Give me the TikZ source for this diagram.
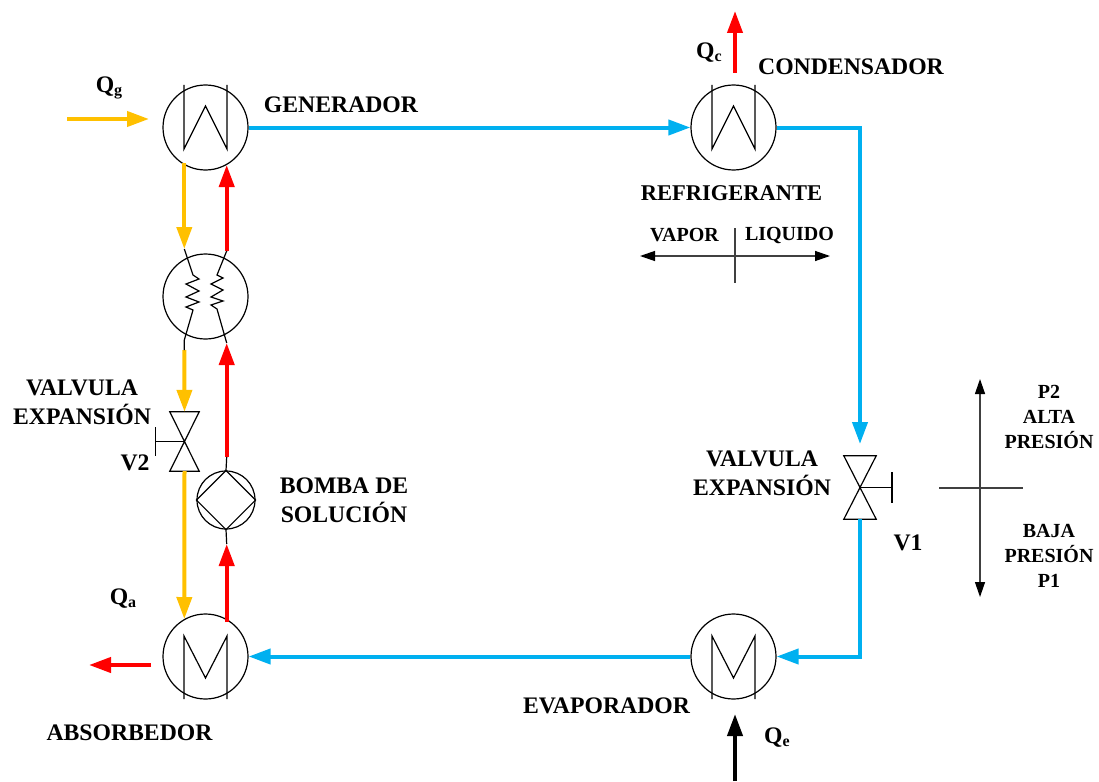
\documentclass[tikz,border=0pt]{standalone}
\usepackage{fontspec}
\setmainfont{Liberation Serif}
\usetikzlibrary{arrows.meta}
\definecolor{flowyellow}{HTML}{FFC000}
\definecolor{flowblue}{HTML}{00B0F0}
\definecolor{flowred}{HTML}{FF0000}
\newcommand{\Qsub}[1]{Q\raisebox{-3pt}{\fontsize{16}{16}\selectfont #1}}
% exchanger coils, drawn from the centre of a unit
\newcommand{\coilup}[1]{\draw[thinline] ([shift={(-21.5,-42.5)}]#1.center) -- ([shift={(-21.5,21.5)}]#1.center) -- ([shift={(0,-21.5)}]#1.center) -- ([shift={(21.5,21.5)}]#1.center) -- ([shift={(21.5,-42.5)}]#1.center);}
\newcommand{\coildown}[1]{\draw[thinline] ([shift={(-21.5,42.5)}]#1.center) -- ([shift={(-21.5,-20.5)}]#1.center) -- ([shift={(0,21.5)}]#1.center) -- ([shift={(21.5,-20.5)}]#1.center) -- ([shift={(21.5,42.5)}]#1.center);}
\newcommand{\valvelines}[1]{\draw[thinline] (#1.north west) -- (#1.north east) -- (#1.south west) -- (#1.south east) -- cycle;}
\tikzset{
    unit/.style={draw, circle, minimum size=85pt, inner sep=0pt, line width=1.2pt},
    thinline/.style={line width=1.2pt, black},
    valvebox/.style={inner sep=0pt, minimum height=59pt},
    lbl/.style={font=\fontsize{23.7}{29}\selectfont\bfseries, align=center, inner sep=0pt},
    reflbl/.style={font=\fontsize{22.5}{29}\selectfont\bfseries, align=center, inner sep=0pt},
    smalllbl/.style={font=\fontsize{20}{25}\selectfont\bfseries, align=center, inner sep=0pt},
    flowtip/.style={-{Triangle[length=22pt,width=15pt]}},
    yellowflow/.style={flowtip, flowyellow, line width=4pt},
    redflow/.style={flowtip, flowred, line width=4pt},
    blueflow/.style={flowtip, flowblue, line width=4pt},
    scaleline/.style={line width=1.3pt, black!75, {Triangle[length=15pt,width=10pt,color=black]}-{Triangle[length=15pt,width=10pt,color=black]}},
}
\begin{document}
\begin{tikzpicture}[x=1pt, y=-1pt]
    \useasboundingbox (0,0) rectangle (1099,781);

    % ===== units =====
    \node[unit] (gen) at (205.5,127.5) {};
    \node[unit] (cond) at (733.5,127.5) {};
    \node[unit] (inter) at (205.5,296.5) {};
    \node[unit] (absor) at (205.5,656.5) {};
    \node[unit] (evap) at (733.5,656.5) {};
    \node[unit, minimum size=58pt] (pump) at (226,500) {};
    \node[valvebox, minimum width=29pt] (vtwo) at (184.5,441.5) {};
    \node[valvebox, minimum width=32pt, minimum height=63pt] (vone) at (860,487.5) {};

    \coilup{gen}
    \coilup{cond}
    \coildown{absor}
    \coildown{evap}
    \draw[thinline] (pump.north) -- (pump.east) -- (pump.south) -- (pump.west) -- cycle;
    \valvelines{vtwo}
    \valvelines{vone}

    % valve handles
    \coordinate (vtwostem) at (155.5,441.5);
    \coordinate (vtwotop) at (155.5,427);
    \coordinate (vtwobot) at (155.5,456);
    \draw[thinline] (vtwo.center) -- (vtwostem);
    \draw[thinline] (vtwotop) -- (vtwobot);
    \coordinate (vonestem) at (892,487.5);
    \coordinate (vonetop) at (892,472);
    \coordinate (vonebot) at (892,503);
    \draw[thinline] (vone.center) -- (vonestem);
    \draw[thinline] (vonetop) -- (vonebot);

    % ===== solution side =====
    \coordinate (genoutL) at (184.3,163);
    \coordinate (interinL) at (184.3,249);
    \coordinate (interoutL) at (184.3,350);
    \coordinate (interinR) at (226.7,343);
    \coordinate (interoutR) at (226.7,251);
    \coordinate (geninR) at (226.7,165);
    \coordinate (absorinL) at (184.3,619);
    \coordinate (absoroutR) at (226.7,622);
    \coordinate (pumpin) at (226.7,544);
    \coordinate (pumpout) at (226.7,457);

    \draw[yellowflow] (genoutL) -- (interinL);
    \draw[yellowflow] (interoutL) -- (vtwo.north);
    \draw[yellowflow] (vtwo.south) -- (absorinL);
    \draw[redflow] (absoroutR) -- (pumpin);
    \draw[redflow] (pumpout) -- (interinR);
    \draw[redflow] (interoutR) -- (geninR);
    \draw[thinline] (pumpin) -- (pump.south);
    \draw[thinline] (pump.north) -- (pumpout);

    % coils inside the solution exchanger
    \draw[thinline] (interinL) -- (193,275) -- (199,279) -- (186,284) -- (199,291) -- (186,297) -- (199,302) -- (186,307) -- (193,310) -- (184.3,340) -- (interoutL);
    \draw[thinline] (interoutR) -- (217,275) -- (223,278) -- (211,284) -- (223,290) -- (211,297) -- (223,301) -- (211,305) -- (217,309) -- (interinR);

    % ===== refrigerant side =====
    \coordinate (voneinT) at (860,444);
    \coordinate (elbowT) at (860,127.5);
    \coordinate (elbowB) at (860,656.5);
    \draw[blueflow] (gen.east) -- (cond.west);
    \draw[blueflow] (cond.east) -- (elbowT) -- (voneinT);
    \draw[blueflow] (vone.south) -- (elbowB) -- (evap.east);
    \draw[blueflow] (evap.west) -- (absor.east);

    % ===== heat flows =====
    \coordinate (qgstart) at (67,119);
    \coordinate (qgend) at (149,119);
    \coordinate (qastart) at (151,665);
    \coordinate (qaend) at (89,665);
    \coordinate (qcstart) at (735,73);
    \coordinate (qcend) at (735,11);
    \coordinate (qestart) at (735,781);
    \coordinate (qeend) at (735,714);
    \draw[yellowflow] (qgstart) -- (qgend);
    \draw[redflow] (qastart) -- (qaend);
    \draw[redflow] (qcstart) -- (qcend);
    \draw[flowtip, black, line width=4pt] (qestart) -- (qeend);

    % ===== vapor / liquido and pressure marks =====
    \coordinate (vapL) at (640,256);
    \coordinate (vapR) at (830,256);
    \coordinate (vapT) at (735,228);
    \coordinate (vapB) at (735,283);
    \draw[scaleline] (vapL) -- (vapR);
    \draw[line width=1.3pt, black!75] (vapT) -- (vapB);
    \coordinate (presT) at (980,379);
    \coordinate (presB) at (980,597);
    \coordinate (presL) at (939,488);
    \coordinate (presR) at (1023,488);
    \draw[scaleline] (presT) -- (presB);
    \draw[line width=1.3pt, black!75] (presL) -- (presR);

    % ===== labels =====
    \node[lbl] (lblqg) at (109,88) {\Qsub{g}};
    \node[lbl] (lblqa) at (123,599) {\Qsub{a}};
    \node[lbl] (lblqc) at (709,53) {\Qsub{c}};
    \node[lbl] (lblqe) at (777,738) {\Qsub{e}};
    \node[lbl] (lblgen) at (341,105) {GENERADOR};
    \node[lbl] (lblcond) at (851,67) {CONDENSADOR};
    \node[reflbl] (lblref) at (731.5,193) {REFRIGERANTE};
    \node[lbl] (lblevap) at (606.5,706) {EVAPORADOR};
    \node[lbl] (lblabsor) at (129.5,733) {ABSORBEDOR};
    \node[lbl] (lblvtwo) at (82,402) {VALVULA\\EXPANSIÓN};
    \node[lbl] (lblvone) at (762,473) {VALVULA\\EXPANSIÓN};
    \node[lbl] (lblv2) at (135,463) {V2};
    \node[lbl] (lblv1) at (908,543) {V1};
    \node[lbl] (lblpump) at (344,500) {BOMBA DE\\SOLUCIÓN};
    \node[smalllbl] (lblvap) at (684.5,235) {VAPOR};
    \node[smalllbl] (lblliq) at (789.5,235) {LIQUIDO};
    \node[smalllbl] (lblalta) at (1049,417) {P2\\ALTA\\PRESIÓN};
    \node[smalllbl] (lblbaja) at (1049,556) {BAJA\\PRESIÓN\\P1};
\end{tikzpicture}
\end{document}
